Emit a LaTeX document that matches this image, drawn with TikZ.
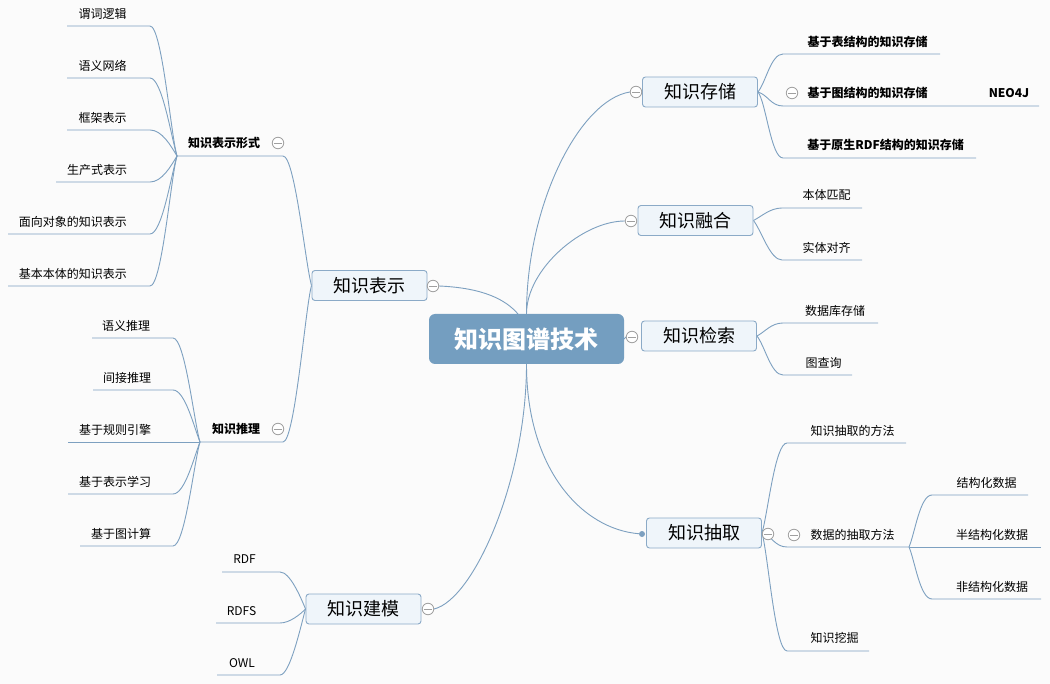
\documentclass[tikz,border=0pt]{standalone}
\usepackage{fontspec}
\setmainfont{Noto Sans CJK SC}
\definecolor{ln}{RGB}{125,160,192}
\definecolor{rt}{RGB}{116,158,192}
\definecolor{bx}{RGB}{139,170,199}
\definecolor{bxf}{RGB}{239,245,250}
\definecolor{cg}{RGB}{160,160,160}
\definecolor{bgc}{RGB}{251,251,251}
\pgfdeclarelayer{back}
\pgfdeclarelayer{lines}
\pgfsetlayers{back,lines,main}
\tikzset{
  conn/.style={draw=ln, line width=0.9pt},
  rootn/.style={fill=rt, rounded corners=6pt, minimum width=195pt, minimum height=50pt, inner sep=0pt, text=white, font=\fontsize{24}{26}\selectfont\bfseries},
  lvl1/.style={draw=bx, fill=bxf, rounded corners=3pt, minimum width=115pt, minimum height=30pt, inner sep=0pt, line width=0.9pt, font=\fontsize{18}{20}\selectfont},
  leaf/.style={inner sep=0pt, font=\fontsize{12}{14}\selectfont},
  bleaf/.style={inner sep=0pt, font=\fontsize{12}{14}\selectfont\bfseries},
  minus/.style={circle, draw=cg, fill=white, minimum size=11.5pt, inner sep=0pt, line width=0.8pt,
    path picture={\draw[cg, line width=0.8pt] ([xshift=-3.8pt]path picture bounding box.center) -- ([xshift=3.8pt]path picture bounding box.center);}},
  dotn/.style={circle, fill=ln, minimum size=6pt, inner sep=0pt},
}
\begin{document}
\begin{tikzpicture}[x=1pt,y=-1pt]
\begin{pgfonlayer}{back}
\fill[bgc] (0,0) rectangle (1050,684);
\end{pgfonlayer}
\useasboundingbox (0,0) rectangle (1050,684);

% root
\node[rootn] (root) at (526.5,339) {知识图谱技术};

% level 1
\node[lvl1] (nS) at (700,92) {知识存储};
\node[minus] (cS) at (636,92) {};
\node[lvl1] (nF) at (695.5,220.5) {知识融合};
\node[minus] (cF) at (631,221) {};
\node[lvl1] (nJ) at (699,336) {知识检索};
\node[minus] (cJ) at (632,337) {};
\node[lvl1] (nG) at (704,533) {知识抽取};
\node[minus] (cG) at (768,534) {};
\node[dotn] (dG) at (642,534) {};
\node[lvl1] (nR) at (369.5,285.5) {知识表示};
\node[minus] (cR) at (433,286) {};
\node[lvl1] (nM) at (363.5,609) {知识建模};
\node[minus] (cM) at (428,609) {};
\coordinate (rk) at (518,314);

% group A
\node[bleaf] (nA) at (224,143) {知识表示形式};
\node[minus] (cA) at (278,143) {};
\coordinate (jA) at (177,156); \coordinate (aR) at (283,156);
\node[leaf] (a1) at (102.5,14) {谓词逻辑};
\node[leaf] (a2) at (102.5,66) {语义网络};
\node[leaf] (a3) at (102.5,118) {框架表示};
\node[leaf] (a4) at (97,170) {生产式表示};
\node[leaf] (a5) at (73,222) {面向对象的知识表示};
\node[leaf] (a6) at (73,274) {基本本体的知识表示};
\coordinate (a1a) at (67,26);  \coordinate (a1b) at (150,26);
\coordinate (a2a) at (67,78);  \coordinate (a2b) at (150,78);
\coordinate (a3a) at (67,130); \coordinate (a3b) at (150,130);
\coordinate (a4a) at (56,182); \coordinate (a4b) at (150,182);
\coordinate (a5a) at (8,234);  \coordinate (a5b) at (150,234);
\coordinate (a6a) at (8,286);  \coordinate (a6b) at (150,286);

% group B
\node[bleaf] (nB) at (236,429) {知识推理};
\node[minus] (cB) at (278,429) {};
\coordinate (jB) at (200,442); \coordinate (bR) at (283,442);
\node[leaf] (b1) at (126,326) {语义推理};
\node[leaf] (b2) at (127,378) {间接推理};
\node[leaf] (b3) at (115,430) {基于规则引擎};
\node[leaf] (b4) at (115,482) {基于表示学习};
\node[leaf] (b5) at (121,534) {基于图计算};
\coordinate (b1a) at (92,338);  \coordinate (b1b) at (173,338);
\coordinate (b2a) at (93,390);  \coordinate (b2b) at (173,390);
\coordinate (b3a) at (68,442);
\coordinate (b4a) at (68,494);  \coordinate (b4b) at (173,494);
\coordinate (b5a) at (80,546);  \coordinate (b5b) at (173,546);

% group C
\node[leaf] (c1) at (244.5,559) {RDF};
\node[leaf] (c2) at (241.5,611) {RDFS};
\node[leaf] (c3) at (242,663) {OWL};
\coordinate (c1a) at (222,572); \coordinate (c1b) at (280,572);
\coordinate (c2a) at (216,623); \coordinate (c2b) at (280,623);
\coordinate (c3a) at (217,675); \coordinate (c3b) at (280,675);

% group D
\node[bleaf] (d1) at (867.5,42) {基于表结构的知识存储};
\node[bleaf] (d2) at (867.5,93) {基于图结构的知识存储};
\node[minus] (cD2) at (792,93) {};
\node[bleaf] (d2x) at (1009,93) {NEO4J};
\node[bleaf] (d3) at (885.5,145) {基于原生RDF结构的知识存储};
\coordinate (d1a) at (783,54);  \coordinate (d1b) at (940,54);
\coordinate (d2a) at (783,106); \coordinate (d2b) at (1039,106);
\coordinate (d3a) at (783,158); \coordinate (d3b) at (976,158);

% group E
\node[leaf] (e1) at (826.5,195) {本体匹配};
\node[leaf] (e2) at (826.5,248) {实体对齐};
\coordinate (e1a) at (782,208); \coordinate (e1b) at (862,208);
\coordinate (e2a) at (782,260); \coordinate (e2b) at (862,260);

% group F
\node[leaf] (f1) at (835,311) {数据库存储};
\node[leaf] (f2) at (823.5,363) {图查询};
\coordinate (f1a) at (783,323); \coordinate (f1b) at (878,323);
\coordinate (f2a) at (783,375); \coordinate (f2b) at (852,375);

% group G
\node[leaf] (g1) at (852.5,431) {知识抽取的方法};
\node[leaf] (g2) at (852.5,535) {数据的抽取方法};
\node[minus] (cG2) at (794,535) {};
\node[leaf] (g3) at (834.5,638) {知识挖掘};
\coordinate (g1a) at (787,443); \coordinate (g1b) at (906,443);
\coordinate (g2a) at (787,547); \coordinate (g2b) at (909,547);
\coordinate (g3a) at (787,651); \coordinate (g3b) at (869,651);

% group H
\node[leaf] (h1) at (986.5,483) {结构化数据};
\node[leaf] (h2) at (992,535) {半结构化数据};
\node[leaf] (h3) at (992,587) {非结构化数据};
\coordinate (h1a) at (932,495); \coordinate (h1b) at (1028,495);
\coordinate (h2b) at (1041,547);
\coordinate (h3a) at (932,599); \coordinate (h3b) at (1041,599);

\begin{pgfonlayer}{lines}
% root connectors
\draw[conn] (root.north) .. controls +(0,-110) and +(-50,8) .. (cS.west);
\draw[conn] (root.north) .. controls +(0,-45) and +(-42,0) .. (cF.west);
\draw[conn] (root.east) -- (cJ.west);
\draw[conn] (root.south) .. controls +(0,105) and +(-60,-5) .. (dG);
\draw[conn] (root.south) .. controls +(0,115) and +(40,-10) .. (cM.east);
\draw[conn] (cR.east) .. controls +(45,2) and +(-12,-14) .. (rk);

% A
\draw[conn] (a1a) -- (a1b) .. controls +(12,0) and +(-6,-20) .. (jA);
\draw[conn] (a2a) -- (a2b) .. controls +(12,0) and +(-6,-20) .. (jA);
\draw[conn] (a3a) -- (a3b) .. controls +(12,0) and +(-6,-10) .. (jA);
\draw[conn] (a4a) -- (a4b) .. controls +(12,0) and +(-6,10) .. (jA);
\draw[conn] (a5a) -- (a5b) .. controls +(12,0) and +(-6,20) .. (jA);
\draw[conn] (a6a) -- (a6b) .. controls +(12,0) and +(-6,20) .. (jA);
\draw[conn] (jA) -- (aR) .. controls +(12,0) and +(-6,-20) .. (nR.west);
% B
\draw[conn] (b1a) -- (b1b) .. controls +(12,0) and +(-6,-20) .. (jB);
\draw[conn] (b2a) -- (b2b) .. controls +(12,0) and +(-6,-15) .. (jB);
\draw[conn] (b3a) -- (jB);
\draw[conn] (b4a) -- (b4b) .. controls +(12,0) and +(-6,15) .. (jB);
\draw[conn] (b5a) -- (b5b) .. controls +(12,0) and +(-6,20) .. (jB);
\draw[conn] (jB) -- (bR) .. controls +(12,0) and +(-6,20) .. (nR.west);
% C
\draw[conn] (c1a) -- (c1b) .. controls +(10,0) and +(-5,-12) .. (nM.west);
\draw[conn] (c2a) -- (c2b) .. controls +(10,0) and +(-5,5) .. (nM.west);
\draw[conn] (c3a) -- (c3b) .. controls +(10,0) and +(-5,18) .. (nM.west);
% D
\draw[conn] (nS.east) .. controls +(8,-10) and +(-12,0) .. (d1a) -- (d1b);
\draw[conn] (nS.east) .. controls +(10,3) and +(-12,0) .. (d2a) -- (d2b);
\draw[conn] (nS.east) .. controls +(8,10) and +(-12,0) .. (d3a) -- (d3b);
% E
\draw[conn] (nF.east) .. controls +(8,-4) and +(-12,0) .. (e1a) -- (e1b);
\draw[conn] (nF.east) .. controls +(8,10) and +(-12,0) .. (e2a) -- (e2b);
% F
\draw[conn] (nJ.east) .. controls +(8,-4) and +(-12,0) .. (f1a) -- (f1b);
\draw[conn] (nJ.east) .. controls +(8,10) and +(-12,0) .. (f2a) -- (f2b);
% G
\draw[conn] (nG.east) .. controls +(6,-20) and +(-12,0) .. (g1a) -- (g1b);
\draw[conn] (nG.east) .. controls +(10,3) and +(-12,0) .. (g2a) -- (g2b);
\draw[conn] (nG.east) .. controls +(6,20) and +(-12,0) .. (g3a) -- (g3b);
% H
\draw[conn] (g2b) .. controls +(6,-14) and +(-12,0) .. (h1a) -- (h1b);
\draw[conn] (g2b) -- (h2b);
\draw[conn] (g2b) .. controls +(6,14) and +(-12,0) .. (h3a) -- (h3b);
\end{pgfonlayer}
\end{tikzpicture}
\end{document}
